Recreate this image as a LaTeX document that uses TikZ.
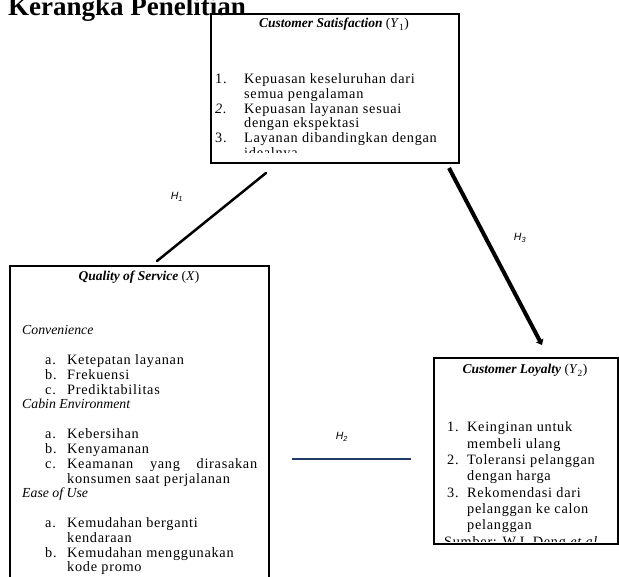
\documentclass[tikz,border=0pt]{standalone}
\usepackage{fontspec}
\setmainfont{Liberation Serif}
\newfontfamily\bodyfont{Liberation Serif}[LetterSpace=5]
\newfontfamily\labfont{Liberation Sans}
\usetikzlibrary{arrows.meta}
\definecolor{navyline}{HTML}{1F3A64}
\begin{document}
\begin{tikzpicture}[x=1pt,y=-1pt,
  box/.style={draw,line width=2pt,inner sep=0pt,anchor=north west},
  txt/.style={anchor=base west,inner sep=0pt,font=\bodyfont\fontsize{14.3}{16}\selectfont},
  ttl/.style={anchor=base,inner sep=0pt,font=\fontsize{13.5}{16}\selectfont\bfseries\itshape},
  sec/.style={anchor=base west,inner sep=0pt,font=\fontsize{13.8}{16}\selectfont\itshape},
  hlab/.style={inner sep=0pt,font=\labfont\itshape\fontsize{10.5}{12}\selectfont},
  conn/.style={line width=2.5pt}]
\clip (0,0) rectangle (619,577);
\fill[white] (0,0) rectangle (619,577);

% heading
\node[anchor=base west,inner sep=0pt,font=\bfseries\fontsize{27}{30}\selectfont] (head) at (8,16) {Kerangka Penelitian};

% boxes
\node[box,minimum width=248pt,minimum height=149pt] (y1) at (210,13) {};
\node[box,minimum width=259pt,minimum height=340pt] (x) at (9,265) {};
\node[box,minimum width=184pt,minimum height=186pt] (y2) at (433,357) {};

% Y1 content
\node[ttl] (y1t) at (334,28) {Customer Satisfaction {\normalfont(\textit{Y}\textsubscript{1})}};
\begin{scope}
\clip (211,14) rectangle (457,153);
\node[txt] (y1n1) at (215,84) {1.};
\node[txt] (y1a) at (244,84) {Kepuasan keseluruhan dari};
\node[txt] (y1b) at (244,98.7) {semua pengalaman};
\node[txt] (y1n2) at (215,113.3) {\itshape 2.};
\node[txt] (y1c) at (244,113.3) {Kepuasan layanan sesuai};
\node[txt] (y1d) at (244,128) {dengan ekspektasi};
\node[txt] (y1n3) at (215,142.6) {3.};
\node[txt] (y1e) at (244,142.6) {Layanan dibandingkan dengan};
\node[txt] (y1f) at (244,157.3) {idealnya};
\end{scope}

% X content
\node[ttl] (xt) at (139,281) {Quality of Service {\normalfont(\textit{X})}};
\node[sec] (s1) at (22,335) {Convenience};
\node[txt] (a1l) at (45,364.6) {a.};
\node[txt] (a1) at (67,364.6) {Ketepatan layanan};
\node[txt] (b1l) at (45,379.4) {b.};
\node[txt] (b1) at (67,379.4) {Frekuensi};
\node[txt] (c1l) at (45,394.2) {c.};
\node[txt] (c1) at (67,394.2) {Prediktabilitas};
\node[sec] (s2) at (22,409) {Cabin Environment};
\node[txt] (a2l) at (45,438.6) {a.};
\node[txt] (a2) at (67,438.6) {Kebersihan};
\node[txt] (b2l) at (45,453.4) {b.};
\node[txt] (b2) at (67,453.4) {Kenyamanan};
\node[txt] (c2l) at (45,468.2) {c.};
\node[txt] (c2) at (67,468.2) {\makebox[190pt][s]{Keamanan yang dirasakan}};
\node[txt] (c2b) at (67,483) {konsumen saat perjalanan};
\node[sec] (s3) at (22,497.8) {Ease of Use};
\node[txt] (a3l) at (45,527.4) {a.};
\node[txt] (a3) at (67,527.4) {Kemudahan berganti};
\node[txt] (a3b) at (67,542.2) {kendaraan};
\node[txt] (b3l) at (45,557) {b.};
\node[txt] (b3) at (67,557) {Kemudahan menggunakan};
\node[txt] (b3b) at (67,571.8) {kode promo};

% Y2 content
\node[ttl] (y2t) at (525,374) {Customer Loyalty {\normalfont(\textit{Y}\textsubscript{2})}};
\begin{scope}
\clip (434,358) rectangle (616,541.5);
\node[txt] (y2n1) at (447,431.9) {1.};
\node[txt] (y2a) at (467,431.9) {Keinginan untuk};
\node[txt] (y2b) at (467,448.2) {membeli ulang};
\node[txt] (y2n2) at (447,464.5) {2.};
\node[txt] (y2c) at (467,464.5) {Toleransi pelanggan};
\node[txt] (y2d) at (467,480.8) {dengan harga};
\node[txt] (y2n3) at (447,497.1) {3.};
\node[txt] (y2e) at (467,497.1) {Rekomendasi dari};
\node[txt] (y2f) at (467,513.4) {pelanggan ke calon};
\node[txt] (y2g) at (467,529.7) {pelanggan};
\node[txt] (src) at (444,546) {Sumber: W.L Deng \textit{et al}};
\end{scope}

% connectors
\coordinate (h1s) at (157,261);
\coordinate (h1e) at (266,173);
\draw[conn,line cap=round] (h1s) -- (h1e);
\coordinate (h3s) at (449,168);
\coordinate (h3e) at (542,345);
\draw[line width=4pt,-{Triangle[length=5pt,width=8pt]}] (h3s) -- (h3e);
\coordinate (h2s) at (292,459);
\coordinate (h2e) at (411,459);
\draw[navyline,line width=2pt] (h2s) -- (h2e);

% labels
\node[hlab] (h1) at (177,197) {H\textsubscript{1}};
\node[hlab] (h2) at (342,437) {H\textsubscript{2}};
\node[hlab] (h3) at (520,238) {H\textsubscript{3}};
\end{tikzpicture}
\end{document}
